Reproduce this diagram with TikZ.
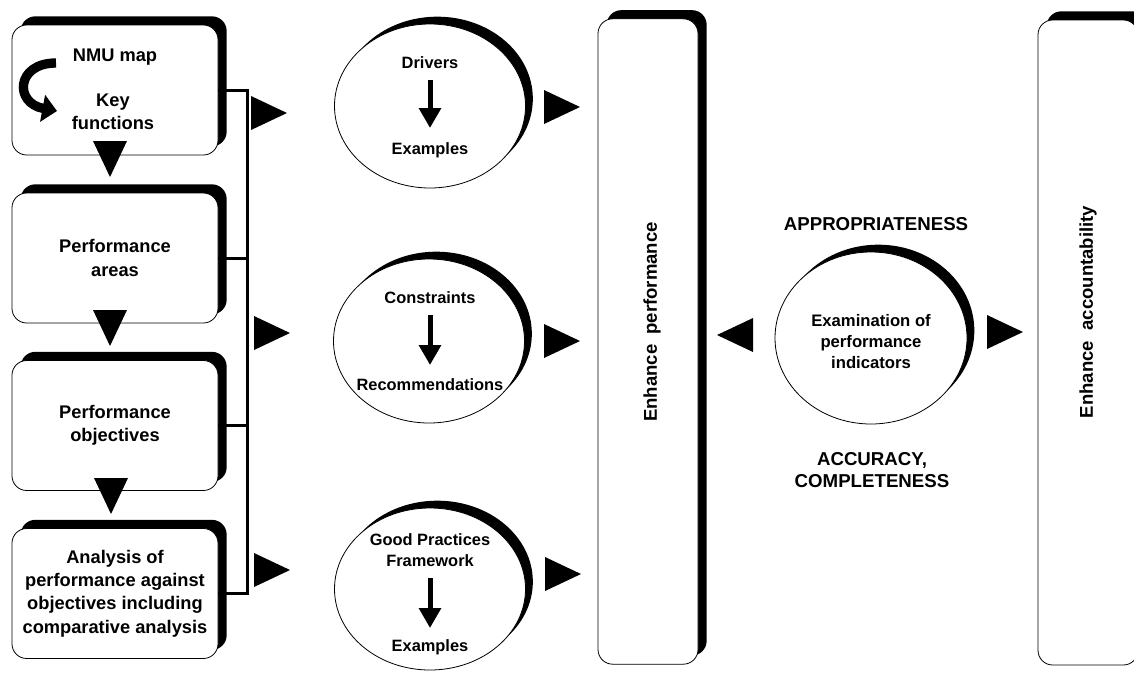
\documentclass[tikz,border=0pt]{standalone}
\usepackage{fontspec}
\setmainfont{Liberation Sans}
\usetikzlibrary{shadows,arrows.meta,calc,shapes.geometric}
\begin{document}
\begin{tikzpicture}[x=0.75pt,y=-0.75pt,
  shad/.style={drop shadow={shadow xshift=6.5pt,shadow yshift=6.5pt,fill=black,opacity=1}},
  eshad/.style={drop shadow={shadow xshift=5.5pt,shadow yshift=5.5pt,fill=black,opacity=1}},
  lbox/.style={draw,line width=0.6pt,fill=white,rounded corners=11pt,minimum width=154.5pt,
    minimum height=97.5pt,align=center,shad,inner sep=0pt,font=\bfseries\fontsize{13.7}{17.6}\selectfont},
  tallbox/.style={draw,line width=0.6pt,fill=white,rounded corners=11pt,minimum width=75pt,
    minimum height=484pt,inner sep=0pt,shad},
  ell/.style={draw,ellipse,line width=0.6pt,fill=white,minimum width=143.25pt,minimum height=123pt,
    inner sep=0pt,eshad},
  btxt/.style={align=center,inner sep=0pt,font=\bfseries\fontsize{13.7}{17.6}\selectfont},
  etxt/.style={align=center,inner sep=0pt,font=\bfseries\fontsize{12.3}{15.5}\selectfont},
  ctxt/.style={align=center,inner sep=0pt,font=\bfseries\fontsize{14}{16.5}\selectfont},
  rtxt/.style={inner sep=0pt,rotate=90,font=\bfseries\fontsize{13.9}{16}\selectfont},
  bigarrow/.style={line width=3.75pt,-{Triangle[width=16pt,length=15pt]}},
  bracket/.style={line width=2.25pt},
  tri/.pic={\fill (-18,-17) -- (18,0) -- (-18,17) -- cycle;}
]
\useasboundingbox (0,0) rectangle (1134,672);
\clip (0,0) rectangle (1134,672);

% left column boxes
\node[lbox] (b1) at (115,90) {};
\node[lbox] (b2) at (115,258) {Performance\\areas};
\node[lbox] (b3) at (115,425.5) {Performance\\objectives};
\node[lbox] (b4) at (115,593.5) {Analysis of\\performance against\\objectives including\\comparative analysis};

\node[btxt] (nmu) at (115,57) {NMU map};
\node[btxt] (key) at (113,112) {Key\\functions};
\draw[line width=7pt,-{Triangle[width=20pt,length=11pt]}] (56,63) .. controls (16,63) and (14,103) .. (57,111);

% down triangles
\pic[rotate=-90] at (110,159) {tri};
\pic[rotate=-90] at (110,328) {tri};
\pic[rotate=-90] at (111,496) {tri};

% bracket
\coordinate (brt) at (247,90);
\coordinate (brb) at (247,593.5);
\draw[bracket] (b1.east) -- (brt) -- (brb) -- (b4.east);
\draw[bracket] (b2.east) -- (b2.east -| brt);
\draw[bracket] (b3.east) -- (b3.east -| brt);

\pic at (269,113) {tri};
\pic at (272,333) {tri};
\pic at (272,570) {tri};

% ellipses
\node[ell] (e1) at (430,106) {};
\node[ell] (e2) at (429,341) {};
\node[ell, minimum height=121.5pt] (e3) at (430,589) {};

\node[etxt] (drv) at (430,63) {Drivers};
\node[etxt] (ex1) at (430,150) {Examples};
\draw[bigarrow] ($(drv)+(0,17)$) -- ($(ex1)+(0,-22)$);

\node[etxt] (con) at (430,298) {Constraints};
\node[etxt] (rec) at (430,385) {Recommendations};
\draw[bigarrow] ($(con)+(0,17)$) -- ($(rec)+(0,-20)$);

\node[etxt] (gpf) at (430,550) {Good Practices\\Framework};
\node[etxt] (ex3) at (430,647) {Examples};
\draw[bigarrow] ($(gpf)+(0,28)$) -- ($(ex3)+(0,-19)$);

\pic at (562,107) {tri};
\pic at (562,341) {tri};
\pic at (563,574) {tri};

% tall boxes
\node[tallbox] (ep) at (648,341.5) {};
\node[rtxt] (ept) at (652,322) {Enhance\ \ performance};
\node[tallbox, minimum height=483.75pt] (ea) at (1088,342.5) {};
\node[rtxt] (eat) at (1088,312) {Enhance\ \ accountability};

% examination
\node[ell, minimum width=144pt, minimum height=129pt] (ex) at (871,338) {};
\node[etxt, font=\bfseries\fontsize{12.5}{15.75}\selectfont] (exm) at (871,342) {Examination of\\performance\\indicators};
\node[ctxt] (app) at (876,224) {APPROPRIATENESS};
\node[ctxt] (acc) at (872,470) {ACCURACY,\\COMPLETENESS};

\pic[rotate=180] at (735,335) {tri};
\pic at (1005,332) {tri};
\end{tikzpicture}
\end{document}
